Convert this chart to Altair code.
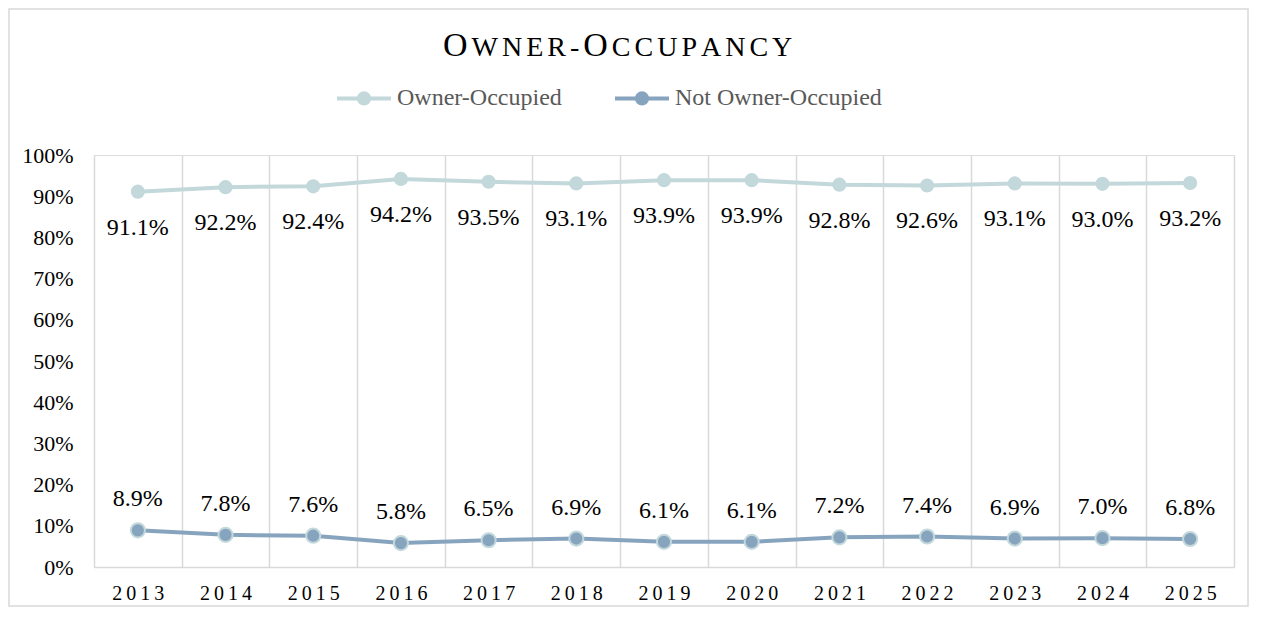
import altair as alt
import pandas as pd

# ---------------- data ----------------
years = [2013, 2014, 2015, 2016, 2017, 2018, 2019, 2020, 2021, 2022, 2023, 2024, 2025]
owner_occupied = [91.1, 92.2, 92.4, 94.2, 93.5, 93.1, 93.9, 93.9, 92.8, 92.6, 93.1, 93.0, 93.2]
not_owner_occupied = [8.9, 7.8, 7.6, 5.8, 6.5, 6.9, 6.1, 6.1, 7.2, 7.4, 6.9, 7.0, 6.8]
series_names = ["Owner-Occupied", "Not Owner-Occupied"]
series_colors = ["#C3D8DB", "#87A4BF"]
y_ticks = [0.0, 0.1, 0.2, 0.3, 0.4, 0.5, 0.6, 0.7, 0.8, 0.9, 1.0]
title_text = "OWNER-OCCUPANCY"

rows = []
for i, yr in enumerate(years):
    rows.append({"year": str(yr), "series": series_names[0], "value": owner_occupied[i] / 100})
    rows.append({"year": str(yr), "series": series_names[1], "value": not_owner_occupied[i] / 100})
df = pd.DataFrame(rows)

FONT = "Liberation Serif"
W, H = 1140, 412
PAD_L, PAD_T, PAD_R, PAD_B = 86, 147, 15, 40
GRID = "#D9D9D9"

x_enc = alt.X(
    "year:O",
    sort=[str(y) for y in years],
    scale=alt.Scale(type="band", paddingInner=0, paddingOuter=0),
    axis=alt.Axis(
        title=None, labelAngle=0, tickBand="extent", grid=True,
        gridColor=GRID, gridWidth=1.5, domainColor=GRID, domainWidth=1.5,
        ticks=False, labelFontSize=20, labelColor="#000000", labelPadding=16,
        labelFont=FONT, labelExpr="join(split(datum.label, ''), '\u2009')",
    ),
)
y_enc = alt.Y(
    "value:Q",
    scale=alt.Scale(domain=[0, 1], nice=False, zero=True),
    axis=alt.Axis(
        title=None, values=y_ticks, format=".0%", grid=False, domain=False,
        ticks=False, labelFontSize=22, labelColor="#000000", labelPadding=21,
        labelFont=FONT,
    ),
)

base = alt.Chart(df)

legend_path = (
    "M-1,0L1,0"
    "M0.19,0A0.19,0.19,0,1,1,-0.19,0A0.19,0.19,0,1,1,0.19,0"
    "M0.06,0A0.06,0.06,0,1,1,-0.06,0A0.06,0.06,0,1,1,0.06,0"
)

line = base.mark_line(strokeWidth=4).encode(
    x=x_enc,
    y=y_enc,
    color=alt.Color(
        "series:N",
        scale=alt.Scale(domain=series_names, range=series_colors),
        legend=alt.Legend(
            title=None, orient="none", legendX=241, legendY=-86,
            direction="horizontal", symbolType=legend_path, symbolSize=2916,
            symbolStrokeWidth=4, labelFontSize=24, labelColor="#595959",
            labelFont=FONT, columnPadding=45, labelOffset=4, padding=0,
            labelLimit=400,
        ),
    ),
)

owner_f = alt.datum.series == series_names[0]
not_f = alt.datum.series == series_names[1]

pts_owner = base.transform_filter(owner_f).mark_circle(
    size=200, color=series_colors[0], opacity=1
).encode(x=x_enc, y=y_enc)
pts_not = base.transform_filter(not_f).mark_circle(
    size=200, color=series_colors[1], stroke=series_colors[0], strokeWidth=2, opacity=1
).encode(x=x_enc, y=y_enc)

lab_owner = base.transform_filter(owner_f).mark_text(
    dy=43, fontSize=24, font=FONT, color="#000000", baseline="alphabetic"
).encode(x=x_enc, y=y_enc, text=alt.Text("value:Q", format=".1%"))
lab_not = base.transform_filter(not_f).mark_text(
    dy=-24, fontSize=24, font=FONT, color="#000000", baseline="alphabetic"
).encode(x=x_enc, y=y_enc, text=alt.Text("value:Q", format=".1%"))

# Title in small caps, letter by letter (Times metrics)
widths = {"O": .722, "W": .944, "N": .722, "E": .611, "R": .667, "-": .333,
          "C": .667, "U": .722, "P": .556, "A": .722, "Y": .722}
title_layers = []
cx = 349
for i, ch in enumerate(title_text):
    big = i == 0 or (i > 0 and title_text[i - 1] == "-")
    fs = 34 if big else 28
    title_layers.append(
        alt.Chart(alt.Data(values=[{"k": 0}])).mark_text(
            text=ch, fontSize=fs, font=FONT, color="#000000",
            align="left", baseline="alphabetic",
        ).encode(x=alt.value(cx), y=alt.value(-99))
    )
    cx += widths[ch] * fs + 4

border = alt.Chart(alt.Data(values=[{"k": 0}])).mark_rect(
    fillOpacity=0, stroke=GRID, strokeWidth=1.5
).encode(
    x=alt.value(-PAD_L + 1), x2=alt.value(W + PAD_R - 1),
    y=alt.value(-PAD_T + 1), y2=alt.value(H + PAD_B - 1),
)

chart = alt.layer(
    border, line, pts_owner, pts_not, lab_owner, lab_not, *title_layers
).properties(
    width=W, height=H,
    padding={"left": PAD_L, "top": PAD_T, "right": PAD_R, "bottom": PAD_B},
    autosize=alt.AutoSizeParams(type="none"),
    background="#FFFFFF",
).configure_view(stroke=None).configure(font=FONT)

chart.save("out.html", embed_options={"renderer": "svg", "actions": False})
